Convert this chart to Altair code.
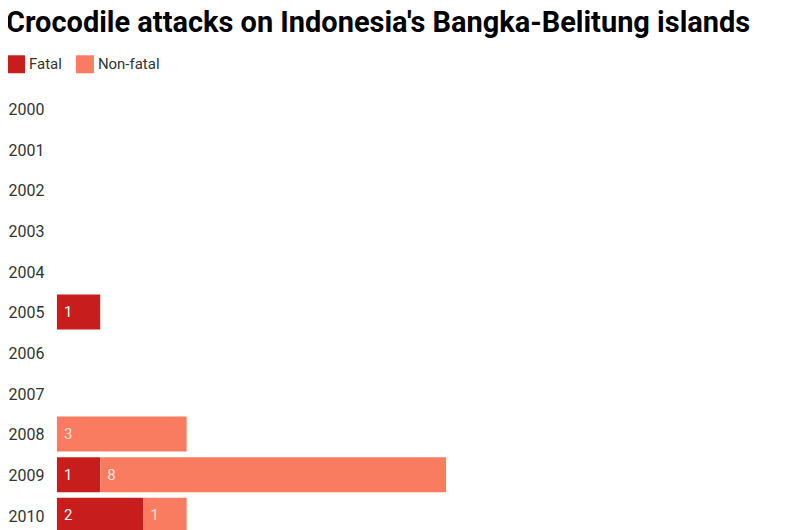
import altair as alt
import pandas as pd

# Data
YEARS = [str(y) for y in range(2000, 2011)]
FATAL = [0, 0, 0, 0, 0, 1, 0, 0, 0, 1, 2]
NON_FATAL = [0, 0, 0, 0, 0, 0, 0, 0, 3, 8, 1]

FATAL_COLOR = "#c71e1d"
NONFATAL_COLOR = "#fa7c60"
FONT = "Roboto"

rows = []
for year, f, n in zip(YEARS, FATAL, NON_FATAL):
    rows.append({"year": year, "type": "Fatal", "order": 0, "count": f})
    rows.append({"year": year, "type": "Non-fatal", "order": 1, "count": n})
df = pd.DataFrame(rows)

base = alt.Chart(df).transform_filter(
    alt.datum.count > 0
).transform_stack(
    stack="count", groupby=["year"], as_=["x0", "x1"], sort=[alt.SortField("order")]
)

y_enc = alt.Y(
    "year:N",
    sort=YEARS,
    title=None,
    scale=alt.Scale(domain=YEARS, paddingInner=0.14, paddingOuter=0.07),
    axis=alt.Axis(
        domain=False, ticks=False, tickSize=0, labelAlign="left",
        labelPadding=49, labelOffset=1.5, labelFont=FONT, labelFontSize=16,
        labelColor="#333333",
    ),
)
x_scale = alt.Scale(domain=[0, 17], nice=False)

bars = base.mark_bar().encode(
    x=alt.X("x0:Q", scale=x_scale, axis=None),
    x2="x1:Q",
    y=y_enc,
    color=alt.Color(
        "type:N",
        scale=alt.Scale(domain=["Fatal", "Non-fatal"], range=[FATAL_COLOR, NONFATAL_COLOR]),
        legend=alt.Legend(
            title=None, orient="none", direction="horizontal",
            legendX=-50, legendY=-33,
            symbolType="square", symbolSize=324, symbolStrokeWidth=0, symbolOpacity=1,
            labelFont=FONT, labelFontSize=15, labelColor="#333333",
            labelOffset=4, columnPadding=14,
        ),
    ),
)

labels = base.mark_text(align="left", dx=7, font=FONT, fontSize=15).encode(
    x=alt.X("x0:Q", scale=x_scale),
    y=alt.Y("year:N", sort=YEARS),
    text="count:Q",
    color=alt.condition(alt.datum.type == "Fatal", alt.value("#ffffff"), alt.value("#fde2da")),
)

chart = (bars + labels).properties(
    width=736,
    height=448,
    autosize=alt.AutoSizeParams(type="none"),
    padding={"left": 49, "top": 80, "right": 0, "bottom": 0},
    title=alt.TitleParams(
        "Crocodile attacks on Indonesia's Bangka-Belitung islands",
        anchor="start", frame="bounds", font=FONT, fontSize=29, fontWeight="bold",
        color="#000000", offset=17, dx=-1,
    ),
).configure_view(stroke=None)

chart.save("out.html", embed_options={"renderer": "svg", "actions": False})
